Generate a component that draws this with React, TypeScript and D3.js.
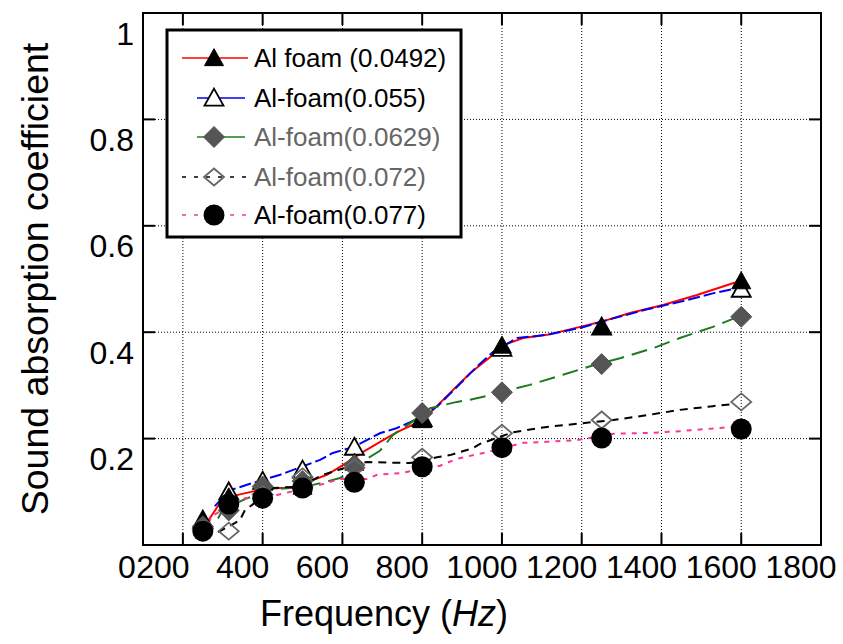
import React from 'react';
import * as d3 from 'd3';

// 1/3-octave centre frequencies (Hz) where markers are placed
const freqs = [250, 315, 400, 500, 630, 800, 1000, 1250, 1600];

const seriesLabels = [
  'Al foam (0.0492)',
  'Al-foam(0.055)',
  'Al-foam(0.0629)',
  'Al-foam(0.072)',
  'Al-foam(0.077)',
];

// marker values (sound absorption coefficient)
const markA = [0.045, 0.09, 0.105, 0.11, 0.155, 0.235, 0.375, 0.41, 0.496];
const markB = [0.047, 0.1, 0.12, 0.141, 0.184, 0.238, 0.37, 0.41, 0.481];
const markC = [0.035, 0.065, 0.11, 0.12, 0.15, 0.248, 0.287, 0.34, 0.429];
const markD = [0.03, 0.026, 0.095, 0.128, 0.145, 0.165, 0.21, 0.235, 0.269];
const markE = [0.026, 0.077, 0.088, 0.107, 0.118, 0.147, 0.183, 0.201, 0.218];

// measured curves [frequency, coefficient]
const lineA = [[250,0.04],[263,0.045],[293,0.079],[313,0.09],[360,0.098],[401,0.105],[444,0.107],[494,0.107],[526,0.122],[561,0.132],[601,0.15],[652,0.175],[702,0.197],[737,0.212],[802,0.235],[870,0.286],[920,0.323],[970,0.353],[998,0.374],[1053,0.389],[1113,0.395],[1196,0.41],[1246,0.419],[1321,0.436],[1404,0.451],[1489,0.47],[1579,0.492],[1600,0.496]];
const lineB = [[280,0.073],[318,0.103],[398,0.122],[444,0.132],[544,0.16],[576,0.173],[627,0.184],[694,0.21],[737,0.22],[770,0.231],[800,0.242],[840,0.262],[887,0.297],[937,0.335],[978,0.363],[1038,0.389],[1113,0.395],[1196,0.408],[1279,0.426],[1364,0.443],[1446,0.457],[1529,0.473],[1579,0.481],[1600,0.483]];
const lineC = [[288,0.05],[300,0.066],[361,0.088],[431,0.105],[469,0.107],[526,0.113],[544,0.116],[594,0.126],[630,0.14],[652,0.158],[694,0.177],[727,0.207],[770,0.229],[820,0.257],[887,0.269],[920,0.273],[962,0.28],[1038,0.295],[1070,0.301],[1153,0.32],[1221,0.336],[1296,0.351],[1379,0.37],[1446,0.389],[1529,0.41],[1579,0.425]];
const lineD = [[288,0.024],[330,0.041],[343,0.047],[356,0.066],[373,0.075],[426,0.107],[494,0.11],[551,0.132],[564,0.135],[644,0.154],[662,0.156],[770,0.154],[837,0.165],[870,0.169],[927,0.182],[945,0.19],[1028,0.212],[1113,0.222],[1203,0.229],[1279,0.235],[1364,0.244],[1446,0.254],[1529,0.261],[1579,0.265]];
const lineE = [[263,0.041],[276,0.056],[356,0.088],[436,0.094],[544,0.113],[594,0.124],[662,0.124],[687,0.132],[744,0.135],[845,0.149],[887,0.162],[965,0.175],[1053,0.192],[1113,0.194],[1188,0.197],[1279,0.209],[1379,0.211],[1446,0.214],[1547,0.22],[1579,0.222]];

const xTickVals = [100, 200, 400, 600, 800, 1000, 1200, 1400, 1600, 1800];
const xTickLabels = ['0', '200', '400', '600', '800', '1000', '1200', '1400', '1600', '1800'];
const xGridVals = [200, 400, 600, 800, 1000, 1200, 1400, 1600];
const yTickVals = [0.2, 0.4, 0.6, 0.8, 1.0];
const yTickLabels = ['0.2', '0.4', '0.6', '0.8', '1'];
const yGridVals = [0.2, 0.4, 0.6, 0.8];

const FONT = '"Liberation Sans", Arial, Helvetica, sans-serif';

type Kind = 'triF' | 'triO' | 'diaF' | 'diaO' | 'circ';

function Marker({ kind, cx, cy }: { kind: Kind; cx: number; cy: number }) {
  if (kind === 'triF' || kind === 'triO') {
    const hw = 9.5, h = 17;
    const d = `M${cx},${cy - h * 0.55}L${cx + hw},${cy + h * 0.45}L${cx - hw},${cy + h * 0.45}Z`;
    return kind === 'triF'
      ? <path d={d} fill="#000" stroke="#000" strokeWidth={1} />
      : <path d={d} fill="#fff" stroke="#000" strokeWidth={1.8} />;
  }
  if (kind === 'diaF' || kind === 'diaO') {
    const s = kind === 'diaF' ? 10.5 : 10;
    const sv = kind === 'diaF' ? 10.5 : 8.5;
    const d = `M${cx},${cy - sv}L${cx + s},${cy}L${cx},${cy + sv}L${cx - s},${cy}Z`;
    return kind === 'diaF'
      ? <path d={d} fill="#555" stroke="#555" strokeWidth={1} />
      : <path d={d} fill="none" stroke="#666" strokeWidth={1.8} />;
  }
  return <circle cx={cx} cy={cy} r={10.5} fill="#000" />;
}

export default function App() {
  const x = d3.scaleLinear().domain([100, 1800]).range([143, 821]);
  const y = d3.scaleLinear().domain([0, 1]).range([545, 13]);
  const line = d3.line<number[]>().x(d => x(d[0])).y(d => y(d[1]));

  const series = [
    { label: seriesLabels[0], marks: markA, pts: lineA, color: '#ff0000', dash: undefined, kind: 'triF' as Kind, text: '#000', lx0: 182, lx1: 248, ldash: undefined },
    { label: seriesLabels[1], marks: markB, pts: lineB, color: '#0000ee', dash: '12,4', kind: 'triO' as Kind, text: '#000', lx0: 197, lx1: 245, ldash: undefined },
    { label: seriesLabels[2], marks: markC, pts: lineC, color: '#1e7a1e', dash: '16,8', kind: 'diaF' as Kind, text: '#666', lx0: 197, lx1: 245, ldash: undefined },
    { label: seriesLabels[3], marks: markD, pts: lineD, color: '#000', dash: '8,6', kind: 'diaO' as Kind, text: '#666', lx0: 182, lx1: 248, ldash: '4,8' },
    { label: seriesLabels[4], marks: markE, pts: lineE, color: '#ff3399', dash: '5,6', kind: 'circ' as Kind, text: '#000', lx0: 182, lx1: 248, ldash: '4,8' },
  ];
  const markerOrder = [1, 0, 2, 3, 4];
  const legendY = [58, 98, 137, 177, 215];

  return (
    <svg width={843} height={644} style={{ position: 'absolute', left: 0, top: 0, background: '#fff' }} fontFamily={FONT}>
      <rect x={0} y={0} width={843} height={644} fill="#fff" />
      {/* grid */}
      {xGridVals.map(v => (
        <line key={'gx' + v} x1={x(v)} x2={x(v)} y1={y(0)} y2={y(1)} stroke="#000" strokeWidth={1} strokeDasharray="1,2" />
      ))}
      {yGridVals.map(v => (
        <line key={'gy' + v} x1={x(100)} x2={x(1800)} y1={y(v)} y2={y(v)} stroke="#000" strokeWidth={1} strokeDasharray="1,2" />
      ))}
      {/* ticks */}
      {xGridVals.map(v => (
        <g key={'tx' + v}>
          <line x1={x(v)} x2={x(v)} y1={y(0)} y2={y(0) - 12} stroke="#000" strokeWidth={2} />
          <line x1={x(v)} x2={x(v)} y1={y(1)} y2={y(1) + 12} stroke="#000" strokeWidth={2} />
        </g>
      ))}
      {yGridVals.map(v => (
        <g key={'ty' + v}>
          <line x1={x(100)} x2={x(100) + 12} y1={y(v)} y2={y(v)} stroke="#000" strokeWidth={2} />
          <line x1={x(1800)} x2={x(1800) - 12} y1={y(v)} y2={y(v)} stroke="#000" strokeWidth={2} />
        </g>
      ))}
      {/* frame */}
      <rect x={x(100)} y={y(1)} width={x(1800) - x(100)} height={y(0) - y(1)} fill="none" stroke="#000" strokeWidth={2} />

      {/* lines */}
      {series.map((s, i) => (
        <path key={'l' + i} d={line(s.pts) || ''} fill="none" stroke={s.color} strokeWidth={2} strokeDasharray={s.dash} />
      ))}
      {/* markers */}
      {markerOrder.map(i => (
        <g key={'m' + i}>
          {series[i].marks.map((v, j) => (
            <Marker key={j} kind={series[i].kind} cx={x(freqs[j])} cy={y(v)} />
          ))}
        </g>
      ))}

      {/* tick labels */}
      {xTickVals.map((v, i) => (
        <text key={'xl' + v} x={x(v) - (i === 0 ? 16 : 20)} y={578} fontSize={32} textAnchor="middle" fill="#000">{xTickLabels[i]}</text>
      ))}
      {yTickVals.map((v, i) => (
        <text key={'yl' + v} x={134} y={y(v) + 20 + 11.5} fontSize={32} textAnchor="end" fill="#000">{yTickLabels[i]}</text>
      ))}

      {/* axis titles */}
      <text x={384} y={626} fontSize={36} textAnchor="middle" fill="#000">
        Frequency (<tspan fontStyle="italic">Hz</tspan>)
      </text>
      <text transform="translate(48,279) rotate(-90)" fontSize={37.5} textAnchor="middle" fill="#000">
        Sound absorption coefficient
      </text>

      {/* legend */}
      <rect x={167} y={30} width={294} height={207} fill="#fff" stroke="#000" strokeWidth={3} />
      {series.map((s, i) => (
        <g key={'lg' + i}>
          <line x1={s.lx0} x2={s.lx1} y1={legendY[i]} y2={legendY[i]} stroke={s.color} strokeWidth={1.5} strokeDasharray={s.ldash} />
          <Marker kind={s.kind} cx={214} cy={legendY[i]} />
          <text x={254} y={legendY[i] + 9} fontSize={26} fill={s.text}>{s.label}</text>
        </g>
      ))}
    </svg>
  );
}
